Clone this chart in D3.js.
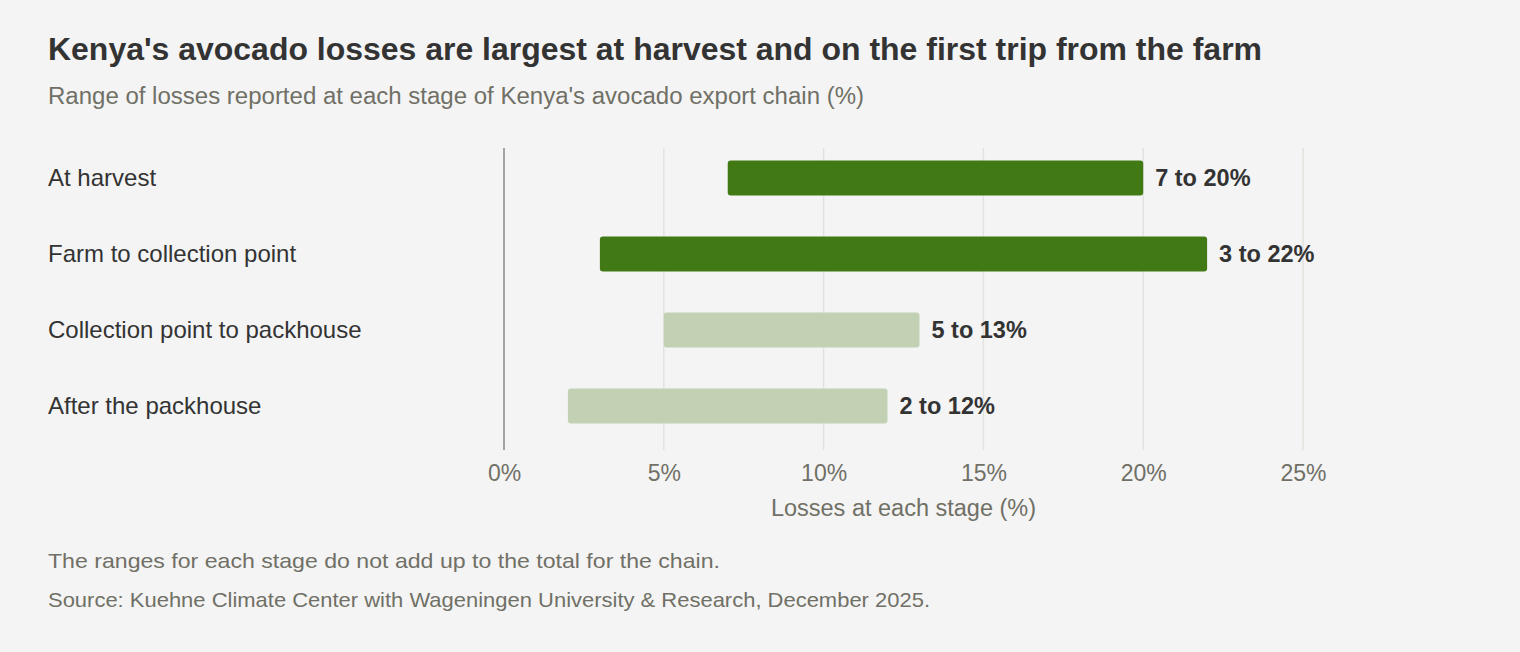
<!DOCTYPE html>
<html>
<head>
<meta charset="utf-8">
<style>
body { margin: 0; background: #f4f4f4; }
svg { display: block; font-family: "Liberation Sans", Arial, sans-serif; }
</style>
</head>
<body>
<svg width="1520" height="652"></svg>
<script src="https://d3js.org/d3.v7.min.js"></script>
<script>

var stages = ["At harvest", "Farm to collection point", "Collection point to packhouse", "After the packhouse"];
var lows = [7, 3, 5, 2];
var highs = [20, 22, 13, 12];
var highlight = [true, true, false, false];
var tickValues = [0, 5, 10, 15, 20, 25];

var svg = d3.select("svg"),
    width = +svg.attr("width"),
    height = +svg.attr("height");

svg.append("rect").attr("width", width).attr("height", height).attr("fill", "#f4f4f4");

var x = d3.scaleLinear()
    .domain([0, 25])
    .range([504, 1303]);

var y = d3.scaleBand()
    .domain(stages)
    .range([140, 444])
    .paddingInner(0.54)
    .paddingOuter(0.27);

// title
svg.append("text")
    .attr("x", 48).attr("y", 60)
    .attr("fill", "#333333")
    .attr("font-size", 32).attr("font-weight", "bold")
    .attr("textLength", 1214).attr("lengthAdjust", "spacingAndGlyphs")
    .text("Kenya's avocado losses are largest at harvest and on the first trip from the farm");

svg.append("text")
    .attr("x", 48).attr("y", 104)
    .attr("fill", "#707066")
    .attr("font-size", 23)
    .attr("textLength", 816).attr("lengthAdjust", "spacingAndGlyphs")
    .text("Range of losses reported at each stage of Kenya's avocado export chain (%)");

// gridlines
svg.append("g")
  .selectAll("line")
  .data(tickValues.slice(1))
  .enter().append("line")
    .attr("x1", function(d) { return x(d); })
    .attr("x2", function(d) { return x(d); })
    .attr("y1", 148).attr("y2", 450)
    .attr("stroke", "#e2e2de")
    .attr("stroke-width", 1.5);

svg.append("line")
    .attr("x1", x(0)).attr("x2", x(0))
    .attr("y1", 148).attr("y2", 450)
    .attr("stroke", "#888883")
    .attr("stroke-width", 1.5);

// axis
var axis = svg.append("g")
    .attr("transform", "translate(0,452)")
    .call(d3.axisBottom(x).tickValues(tickValues).tickSize(0).tickPadding(13)
        .tickFormat(function(d) { return d + "%"; }));
axis.select(".domain").remove();
axis.selectAll("text")
    .attr("fill", "#707066")
    .attr("font-size", 23)
    .attr("font-family", "Liberation Sans, Arial, sans-serif");

svg.append("text")
    .attr("x", (x(0) + x(25)) / 2).attr("y", 516)
    .attr("text-anchor", "middle")
    .attr("fill", "#707066")
    .attr("font-size", 23.5)
    .text("Losses at each stage (%)");

// category labels
svg.append("g")
  .selectAll("text")
  .data(stages)
  .enter().append("text")
    .attr("x", 48)
    .attr("y", function(d) { return y(d) + y.bandwidth() / 2; })
    .attr("dy", "0.35em")
    .attr("fill", "#333333")
    .attr("font-size", 24)
    .text(function(d) { return d; });

// bars
var rows = stages.map(function(s, i) {
    return { stage: s, low: lows[i], high: highs[i], hl: highlight[i] };
});

svg.append("g")
  .selectAll("rect")
  .data(rows)
  .enter().append("rect")
    .attr("x", function(d) { return x(d.low); })
    .attr("y", function(d) { return y(d.stage); })
    .attr("width", function(d) { return x(d.high) - x(d.low); })
    .attr("height", y.bandwidth())
    .attr("rx", 3)
    .attr("fill", function(d) { return d.hl ? "#417a15" : "#c2d0b4"; });

svg.append("g")
  .selectAll("text")
  .data(rows)
  .enter().append("text")
    .attr("x", function(d) { return x(d.high) + 12; })
    .attr("y", function(d) { return y(d.stage) + y.bandwidth() / 2; })
    .attr("dy", "0.35em")
    .attr("fill", "#333333")
    .attr("font-size", 23.5)
    .attr("font-weight", "bold")
    .text(function(d) { return d.low + " to " + d.high + "%"; });

// notes
svg.append("text")
    .attr("x", 48).attr("y", 568)
    .attr("fill", "#707066")
    .attr("font-size", 21)
    .attr("textLength", 672).attr("lengthAdjust", "spacingAndGlyphs")
    .text("The ranges for each stage do not add up to the total for the chain.");

svg.append("text")
    .attr("x", 48).attr("y", 607)
    .attr("fill", "#707066")
    .attr("font-size", 21)
    .attr("textLength", 882).attr("lengthAdjust", "spacingAndGlyphs")
    .text("Source: Kuehne Climate Center with Wageningen University & Research, December 2025.");

</script>
</body>
</html>
